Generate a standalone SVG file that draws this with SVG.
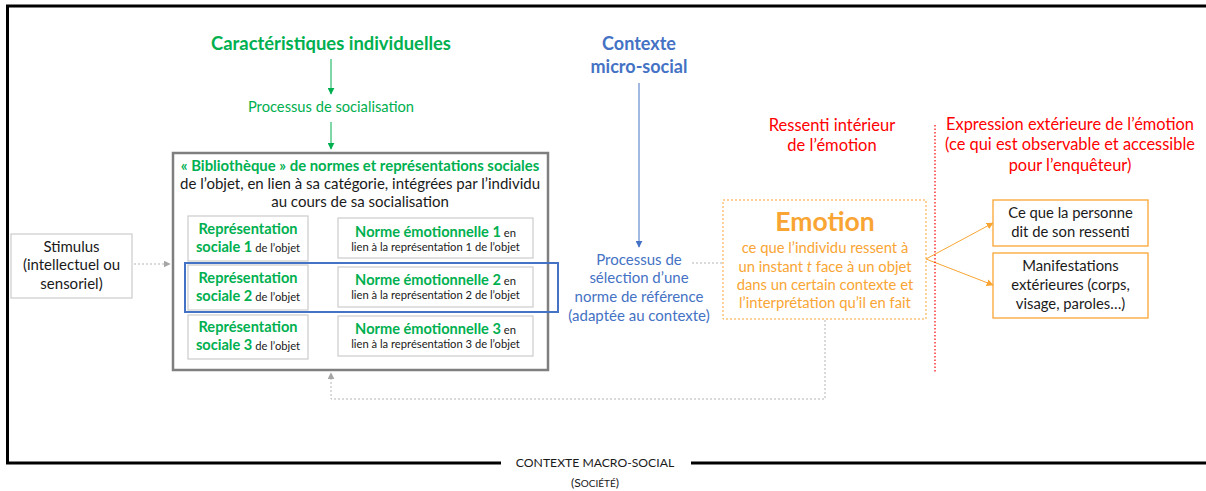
<svg xmlns="http://www.w3.org/2000/svg" width="1206" height="491" viewBox="0 0 1206 491">
<defs>
<style>
text{font-family:Lato,"Liberation Sans",sans-serif;}
.g{fill:#00B050;}
.gb{fill:#00B050;font-weight:bold;}
.k{fill:#1a1a1a;}
.bl{fill:#4472C4;}
.or{fill:#F9A533;}
.rd{fill:#FF0000;}
.c{text-anchor:middle;}
.box{fill:#fff;stroke:#D0D0D0;stroke-width:1.3;}
.dash{fill:none;stroke:#B5B5B5;stroke-width:1;stroke-dasharray:2 2;}
</style>
<marker id="ag" viewBox="0 0 10 10" refX="9" refY="5" markerWidth="7" markerHeight="7" orient="auto" markerUnits="userSpaceOnUse"><path d="M0,0 L10,5 L0,10 z" fill="#00B050"/></marker>
<marker id="ab" viewBox="0 0 10 10" refX="9" refY="5" markerWidth="7" markerHeight="7" orient="auto" markerUnits="userSpaceOnUse"><path d="M0,0 L10,5 L0,10 z" fill="#4472C4"/></marker>
<marker id="agr" viewBox="0 0 10 10" refX="9" refY="5" markerWidth="7" markerHeight="7" orient="auto-start-reverse" markerUnits="userSpaceOnUse"><path d="M0,0 L10,5 L0,10 z" fill="#A6A6A6"/></marker>
<marker id="ao" viewBox="0 0 10 10" refX="9" refY="5" markerWidth="7" markerHeight="7" orient="auto" markerUnits="userSpaceOnUse"><path d="M0,0 L10,5 L0,10 z" fill="#F9A533"/></marker>
</defs>
<rect width="1206" height="491" fill="#fff"/>

<g id="frame">
<path d="M1206,6 H7.5 V463 H501 M691,463 H1206" fill="none" stroke="#000" stroke-width="3"/>
<text x="595" y="467" class="c k" font-size="12.2">CONTEXTE MACRO-SOCIAL</text>
<text x="595" y="487" class="c k" font-size="12.2">(S<tspan font-size="10">OCIÉTÉ</tspan>)</text>
</g>

<g id="connectors">
<line x1="331" y1="59" x2="331" y2="94" stroke="#00B050" stroke-width="1" marker-end="url(#ag)"/>
<line x1="331" y1="122" x2="331" y2="149" stroke="#00B050" stroke-width="1" marker-end="url(#ag)"/>
<line x1="639" y1="83" x2="639" y2="247" stroke="#4472C4" stroke-width="1" marker-end="url(#ab)"/>
<line x1="134" y1="264" x2="170" y2="264" class="dash" marker-end="url(#agr)"/>
<line x1="692" y1="263" x2="738" y2="263" class="dash" marker-end="url(#agr)"/>
<line x1="311" y1="238" x2="336" y2="238" class="dash" marker-start="url(#agr)" marker-end="url(#agr)"/>
<line x1="311" y1="286" x2="336" y2="286" class="dash" marker-start="url(#agr)" marker-end="url(#agr)"/>
<line x1="311" y1="335" x2="336" y2="335" class="dash" marker-start="url(#agr)" marker-end="url(#agr)"/>
<polyline points="825,320 825,399 331,399 331,373" class="dash" marker-end="url(#agr)"/>
<line x1="926" y1="259" x2="993" y2="223" stroke="#F9A533" stroke-width="1" marker-end="url(#ao)"/>
<line x1="926" y1="259" x2="993" y2="285" stroke="#F9A533" stroke-width="1" marker-end="url(#ao)"/>
<line x1="935" y1="125" x2="935" y2="373" stroke="#FF0000" stroke-width="1.2" stroke-dasharray="1.5 2"/>
</g>

<g id="caracteristiques">
<text x="331" y="50" class="c gb" font-size="18.4">Caractéristiques individuelles</text>
</g>
<g id="socialisation">
<text x="331" y="112" class="c g" font-size="14.7">Processus de socialisation</text>
</g>

<g id="bibliotheque">
<rect x="173" y="153" width="375" height="217" fill="#fff" stroke="#7F7F7F" stroke-width="2.5"/>
<text x="360" y="171" class="c gb" font-size="14.9">« Bibliothèque » de normes et représentations sociales</text>
<text x="360" y="189" class="c k" font-size="15">de l’objet, en lien à sa catégorie, intégrées par l’individu</text>
<text x="360" y="207" class="c k" font-size="15">au cours de sa socialisation</text>
</g>

<g id="rep1">
<rect x="188" y="216" width="120" height="45" class="box"/>
<text x="248" y="234" class="c gb" font-size="14.6">Représentation</text>
<text x="248" y="252" class="c gb" font-size="14.6">sociale 1<tspan class="k" font-weight="normal" font-size="11.2"> de l’objet</tspan></text>
</g>
<g id="rep2">
<rect x="188" y="265" width="120" height="45" class="box"/>
<text x="248" y="283" class="c gb" font-size="14.6">Représentation</text>
<text x="248" y="301" class="c gb" font-size="14.6">sociale 2<tspan class="k" font-weight="normal" font-size="11.2"> de l’objet</tspan></text>
</g>
<g id="rep3">
<rect x="188" y="315" width="120" height="44" class="box"/>
<text x="248" y="332" class="c gb" font-size="14.6">Représentation</text>
<text x="248" y="350" class="c gb" font-size="14.6">sociale 3<tspan class="k" font-weight="normal" font-size="11.2"> de l’objet</tspan></text>
</g>
<g id="norme1">
<rect x="338" y="218" width="195" height="40" class="box"/>
<text x="435.5" y="237" class="c gb" font-size="14.6">Norme émotionnelle 1<tspan class="k" font-weight="normal" font-size="11.2"> en</tspan></text>
<text x="435.5" y="251" class="c k" font-size="11.2">lien à la représentation 1 de l’objet</text>
</g>
<g id="norme2">
<rect x="338" y="267" width="195" height="40" class="box"/>
<text x="435.5" y="285" class="c gb" font-size="14.6">Norme émotionnelle 2<tspan class="k" font-weight="normal" font-size="11.2"> en</tspan></text>
<text x="435.5" y="299" class="c k" font-size="11.2">lien à la représentation 2 de l’objet</text>
</g>
<g id="norme3">
<rect x="338" y="316" width="195" height="40" class="box"/>
<text x="435.5" y="334" class="c gb" font-size="14.6">Norme émotionnelle 3<tspan class="k" font-weight="normal" font-size="11.2"> en</tspan></text>
<text x="435.5" y="348" class="c k" font-size="11.2">lien à la représentation 3 de l’objet</text>
</g>
<g id="selection2">
<rect x="185" y="263" width="373" height="49" fill="none" stroke="#4472C4" stroke-width="2"/>
</g>

<g id="stimulus">
<rect x="11" y="234" width="121" height="64" class="box"/>
<text x="71.5" y="252" class="c k" font-size="15">Stimulus</text>
<text x="71.5" y="270" class="c k" font-size="15">(intellectuel ou</text>
<text x="71.5" y="289" class="c k" font-size="15">sensoriel)</text>
</g>

<g id="micro-social">
<text x="639" y="50" class="c bl" font-size="18" font-weight="bold">Contexte</text>
<text x="639" y="73" class="c bl" font-size="18" font-weight="bold">micro-social</text>
</g>
<g id="processus-selection">
<text x="639" y="265" class="c bl" font-size="15">Processus de</text>
<text x="639" y="283" class="c bl" font-size="15">sélection d’une</text>
<text x="639" y="302" class="c bl" font-size="15">norme de référence</text>
<text x="639" y="321" class="c bl" font-size="15">(adaptée au contexte)</text>
</g>

<g id="emotion">
<rect x="723" y="200" width="203" height="119" fill="#fff" stroke="#F9A533" stroke-width="1" stroke-dasharray="2 2"/>
<text x="825" y="231" class="c or" font-size="26.5" font-weight="bold">Emotion</text>
<text x="825" y="253" class="c or" font-size="14.8">ce que l’individu ressent à</text>
<text x="825" y="272" class="c or" font-size="14.8">un instant <tspan font-style="italic">t</tspan> face à un objet</text>
<text x="825" y="290" class="c or" font-size="14.8">dans un certain contexte et</text>
<text x="825" y="308" class="c or" font-size="14.8">l’interprétation qu’il en fait</text>
</g>

<g id="ressenti">
<text x="832" y="131" class="c rd" font-size="16.5">Ressenti intérieur</text>
<text x="832" y="151" class="c rd" font-size="16.5">de l’émotion</text>
</g>
<g id="expression">
<text x="1070" y="130" class="c rd" font-size="16.4">Expression extérieure de l’émotion</text>
<text x="1070" y="150" class="c rd" font-size="16.4">(ce qui est observable et accessible</text>
<text x="1070" y="171" class="c rd" font-size="16.4">pour l’enquêteur)</text>
</g>

<g id="dit">
<rect x="993" y="200" width="155" height="46" fill="#fff" stroke="#F9A533" stroke-width="1.3"/>
<text x="1070.5" y="218" class="c k" font-size="14.8">Ce que la personne</text>
<text x="1070.5" y="237" class="c k" font-size="14.8">dit de son ressenti</text>
</g>
<g id="manifestations">
<rect x="993" y="253" width="155" height="65" fill="#fff" stroke="#F9A533" stroke-width="1.3"/>
<text x="1070.5" y="271" class="c k" font-size="14.8">Manifestations</text>
<text x="1070.5" y="290" class="c k" font-size="14.8">extérieures (corps,</text>
<text x="1070.5" y="309" class="c k" font-size="14.8">visage, paroles…)</text>
</g>
</svg>
